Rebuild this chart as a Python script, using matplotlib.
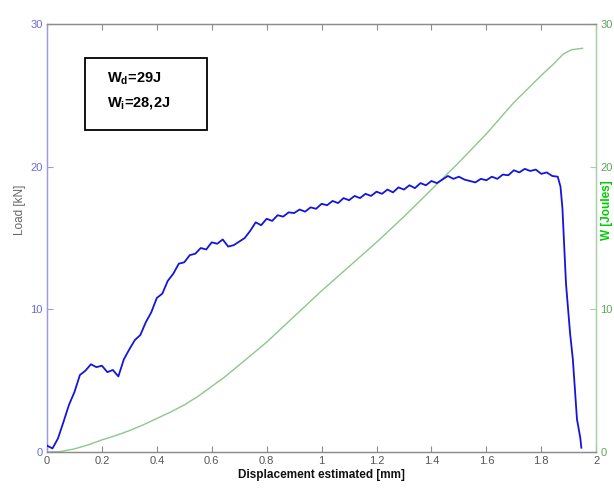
import matplotlib
matplotlib.use("Agg")
import matplotlib.pyplot as plt
from matplotlib.patches import Rectangle

plt.rcParams['font.family'] = ['Liberation Sans', 'DejaVu Sans']
plt.rcParams['mathtext.fontset'] = 'custom'
plt.rcParams['mathtext.rm'] = 'Liberation Sans:bold'
plt.rcParams['mathtext.it'] = 'Liberation Sans:bold'
plt.rcParams['mathtext.bf'] = 'Liberation Sans:bold'

# ---- data ----
load_disp = [0.00, 0.02, 0.04, 0.06, 0.08, 0.10, 0.12, 0.14, 0.16, 0.18,
             0.20, 0.22, 0.24, 0.26, 0.28, 0.30, 0.32, 0.34, 0.36, 0.38,
             0.40, 0.42, 0.44, 0.46, 0.48, 0.50, 0.52, 0.54, 0.56, 0.58,
             0.60, 0.62, 0.64, 0.66, 0.68, 0.70, 0.72, 0.74, 0.76, 0.78,
             0.80, 0.82, 0.84, 0.86, 0.88, 0.90, 0.92, 0.94, 0.96, 0.98,
             1.00, 1.02, 1.04, 1.06, 1.08, 1.10, 1.12, 1.14, 1.16, 1.18,
             1.20, 1.22, 1.24, 1.26, 1.28, 1.30, 1.32, 1.34, 1.36, 1.38,
             1.40, 1.42, 1.44, 1.46, 1.48, 1.50, 1.52, 1.54, 1.56, 1.58,
             1.60, 1.62, 1.64, 1.66, 1.68, 1.70, 1.72, 1.74, 1.76, 1.78,
             1.80, 1.82, 1.84, 1.86, 1.87, 1.877, 1.89, 1.905, 1.915, 1.93,
             1.942, 1.946]
load_kn = [0.45, 0.25, 0.95, 2.1, 3.3, 4.2, 5.4, 5.7, 6.15, 5.95,
           6.05, 5.6, 5.75, 5.3, 6.5, 7.2, 7.85, 8.2, 9.1, 9.8,
           10.8, 11.1, 12.0, 12.5, 13.2, 13.3, 13.8, 13.9, 14.3, 14.2,
           14.7, 14.6, 14.9, 14.4, 14.5, 14.75, 15.0, 15.5, 16.1, 15.9,
           16.35, 16.2, 16.6, 16.5, 16.8, 16.75, 17.0, 16.85, 17.15, 17.05,
           17.4, 17.3, 17.6, 17.45, 17.8, 17.65, 17.95, 17.8, 18.1, 17.95,
           18.25, 18.1, 18.4, 18.2, 18.55, 18.4, 18.7, 18.5, 18.85, 18.7,
           19.0, 18.85, 19.1, 19.35, 19.15, 19.3, 19.1, 19.0, 18.9, 19.15,
           19.05, 19.3, 19.15, 19.45, 19.4, 19.75, 19.6, 19.85, 19.7, 19.8,
           19.5, 19.6, 19.35, 19.3, 18.6, 17.1, 11.8, 8.3, 6.5, 2.3,
           1.0, 0.3]

energy_disp = [0.00, 0.05, 0.10, 0.15, 0.20, 0.25, 0.30, 0.35, 0.40, 0.45,
               0.50, 0.55, 0.60, 0.65, 0.70, 0.80,
               0.90, 1.00, 1.10, 1.20, 1.30, 1.40, 1.50, 1.60, 1.70, 1.80,
               1.85, 1.88, 1.91, 1.95]
energy_j = [0.0, 0.03, 0.22, 0.5, 0.85, 1.15, 1.5, 1.9, 2.35, 2.8,
            3.3, 3.9, 4.6, 5.3, 6.1, 7.7,
            9.5, 11.3, 13.0, 14.7, 16.5, 18.4, 20.3, 22.3, 24.5, 26.4,
            27.3, 27.9, 28.2, 28.3]

x_ticks = [0, 0.2, 0.4, 0.6, 0.8, 1, 1.2, 1.4, 1.6, 1.8, 2]
x_tick_labels = ['0', '0.2', '0.4', '0.6', '0.8', '1', '1.2', '1.4', '1.6', '1.8', '2']
y_ticks = [0, 10, 20, 30]

# ---- style ----
blue_line = '#1515d8'
green_line = '#8cc88c'
left_col = '#9a9ae0'
left_txt = '#6a6ad8'
right_col = '#a5d0a5'
right_txt = '#5aa55a'
frame_col = '#8c8c8c'

fig = plt.figure(figsize=(6.14, 4.91), dpi=100)
ax = fig.add_axes([0.0765, 0.0794, 0.8945, 0.8716])
ax2 = ax.twinx()

ax.plot(load_disp, load_kn, color=blue_line, lw=1.3, zorder=3)
ax2.plot(energy_disp, energy_j, color=green_line, lw=1.0)
ax.set_zorder(ax2.get_zorder() + 1)
ax.patch.set_visible(False)

for a in (ax, ax2):
    a.set_xlim(0, 2)
    a.set_ylim(0, 30)
    a.set_yticks(y_ticks)
    a.tick_params(direction='in', length=4, width=0.8, labelsize=8, pad=3)

ax.set_xticks(x_ticks)
ax.set_xticklabels(x_tick_labels)
ax.tick_params(axis='x', colors=frame_col, labelcolor='#555555', top=True)
ax.tick_params(axis='y', colors=left_col, labelcolor=left_txt)
ax2.tick_params(axis='y', colors=right_col, labelcolor=right_txt)

for a in (ax, ax2):
    a.spines['top'].set_color(frame_col)
    a.spines['bottom'].set_color(frame_col)
    a.spines['left'].set_color(left_col)
    a.spines['right'].set_color(right_col)
    for s in a.spines.values():
        s.set_linewidth(0.9)

ax.set_xlabel('Displacement estimated [mm]', fontsize=8.5, fontweight='bold',
              color='#111111', labelpad=2)
fig.text(0.033, 0.572, 'Load [kN]', rotation=90, ha='center', va='center',
         fontsize=8.5, color='#666666')
fig.text(0.988, 0.572, 'W [Joules]', rotation=90, ha='center', va='center',
         fontsize=8.5, color='#00cc00', fontweight='bold')

# annotation box
ax.add_patch(Rectangle((0.069, 0.753), 0.222, 0.168, transform=ax.transAxes,
                       fill=False, edgecolor='black', lw=1.3, zorder=5))
ax.text(0.109, 0.871, r'$\mathrm{W_d}$=29J', transform=ax.transAxes,
        fontsize=10.5, fontweight='bold', va='center', ha='left')
ax.text(0.109, 0.815, r'$\mathrm{W_i}$=28,2J', transform=ax.transAxes,
        fontsize=10.5, fontweight='bold', va='center', ha='left')

fig.savefig('out.png', dpi=100)
